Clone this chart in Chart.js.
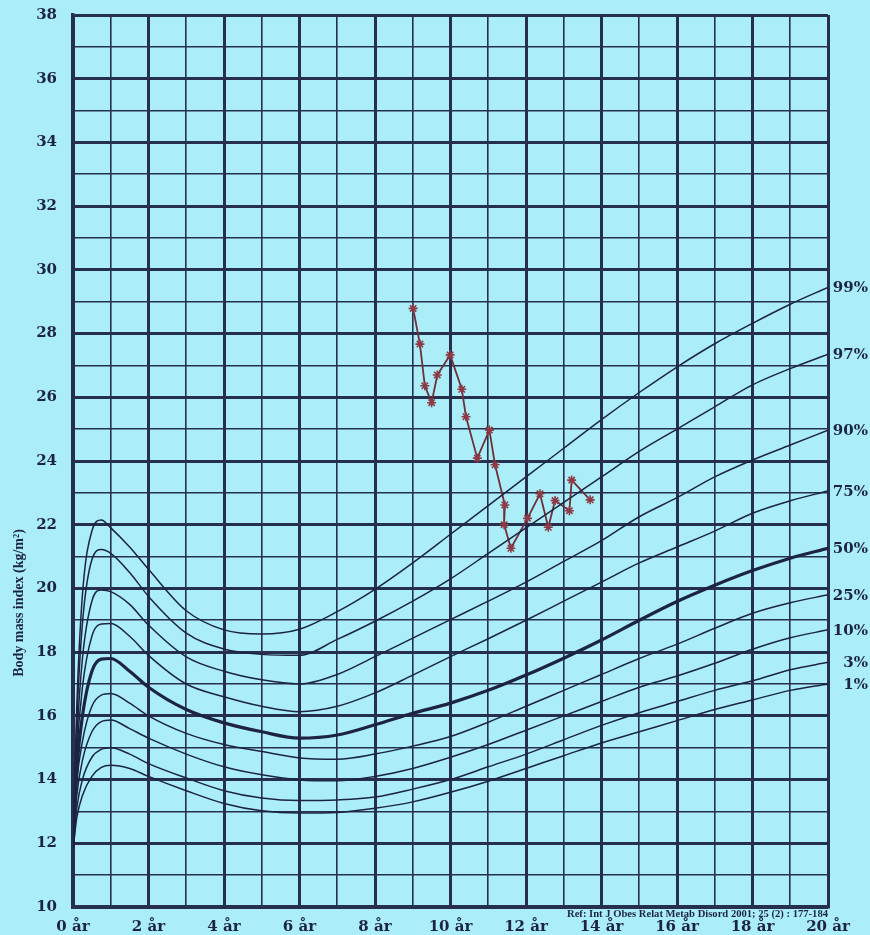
<!DOCTYPE html>
<html>
<head>
<meta charset="utf-8">
<script src="https://cdn.jsdelivr.net/npm/chart.js@4.4.1/dist/chart.umd.min.js"></script>
<style>
  body { margin: 0; background: #abeef8; }
  canvas { display: block; }
</style>
</head>
<body>
<canvas id="bmi" width="870" height="935"></canvas>
<script>
// ages in years, curves
const ages = [0, 0.1, 0.25, 0.5, 0.75, 1, 1.5, 2, 3, 4, 5, 6, 7, 8, 9, 10, 11, 12, 13, 14, 15, 16, 17, 18, 19, 20]
const p99 = [12.0, 16.3, 19.8, 21.8, 22.15, 21.9, 21.3, 20.6, 19.3, 18.7, 18.57, 18.72, 19.27, 19.97, 20.8, 21.7, 22.6, 23.5, 24.4, 25.3, 26.15, 26.95, 27.68, 28.32, 28.92, 29.45]
const p97 = [12.0, 15.8, 18.9, 20.9, 21.22, 21.1, 20.5, 19.75, 18.6, 18.1, 17.93, 17.9, 18.4, 18.97, 19.6, 20.3, 21.1, 21.9, 22.7, 23.5, 24.3, 25.0, 25.7, 26.39, 26.9, 27.35]
const p90 = [12.0, 15.2, 17.8, 19.6, 19.95, 19.9, 19.5, 18.85, 17.85, 17.4, 17.13, 17.0, 17.3, 17.86, 18.44, 19.02, 19.6, 20.2, 20.85, 21.5, 22.25, 22.85, 23.5, 24.03, 24.5, 24.97]
const p75 = [11.9, 14.8, 16.9, 18.5, 18.88, 18.9, 18.5, 17.9, 17.0, 16.6, 16.3, 16.13, 16.3, 16.72, 17.28, 17.86, 18.42, 19.0, 19.6, 20.2, 20.8, 21.3, 21.8, 22.36, 22.75, 23.06]
const p50 = [11.9, 14.3, 16.0, 17.4, 17.78, 17.8, 17.4, 16.9, 16.2, 15.78, 15.5, 15.3, 15.4, 15.72, 16.08, 16.4, 16.8, 17.28, 17.81, 18.38, 19.0, 19.59, 20.1, 20.56, 20.95, 21.26]
const p25 = [11.9, 13.9, 15.2, 16.3, 16.65, 16.7, 16.4, 16.0, 15.45, 15.1, 14.88, 14.68, 14.64, 14.8, 15.05, 15.35, 15.8, 16.3, 16.8, 17.3, 17.8, 18.25, 18.75, 19.22, 19.55, 19.8]
const p10 = [11.9, 13.5, 14.6, 15.5, 15.82, 15.87, 15.6, 15.3, 14.8, 14.4, 14.15, 13.99, 13.96, 14.1, 14.35, 14.7, 15.1, 15.55, 16.0, 16.45, 16.9, 17.25, 17.65, 18.09, 18.45, 18.7]
const p3 = [11.8, 13.1, 14.0, 14.7, 14.95, 15.0, 14.8, 14.5, 14.05, 13.65, 13.42, 13.34, 13.36, 13.45, 13.7, 14.0, 14.4, 14.8, 15.25, 15.7, 16.1, 16.45, 16.8, 17.1, 17.45, 17.68]
const p1 = [11.8, 12.8, 13.5, 14.1, 14.38, 14.45, 14.35, 14.1, 13.65, 13.25, 13.02, 12.95, 12.97, 13.1, 13.3, 13.6, 13.95, 14.35, 14.75, 15.15, 15.5, 15.85, 16.2, 16.5, 16.8, 17.0]

const percentiles = ['99%', '97%', '90%', '75%', '50%', '25%', '10%', '3%', '1%']
const curves = [p99, p97, p90, p75, p50, p25, p10, p3, p1]

// the child's measurements
const childAge = [9.01, 9.19, 9.32, 9.5, 9.65, 9.99, 10.3, 10.41, 10.71, 11.03, 11.18, 11.44, 11.42, 11.6, 12.04, 12.37, 12.59, 12.77, 13.15, 13.21, 13.7]
const childBmi = [28.79, 27.67, 26.36, 25.83, 26.7, 27.33, 26.25, 25.39, 24.09, 24.97, 23.88, 22.62, 22.0, 21.26, 22.2, 22.97, 21.92, 22.76, 22.44, 23.4, 22.78]

const xTickLabels = ['0 år', '2 år', '4 år', '6 år', '8 år', '10 år', '12 år', '14 år', '16 år', '18 år', '20 år']
const yTickLabels = ['10', '12', '14', '16', '18', '20', '22', '24', '26', '28', '30', '32', '34', '36', '38']

const ink = '#1c2442'
const gridInk = '#26304e'

const datasets = curves.map((vals, i) => ({
  label: percentiles[i],
  data: ages.map((a, j) => ({ x: a, y: vals[j] })),
  borderColor: ink,
  borderWidth: percentiles[i] === '50%' ? 3.2 : 1.5,
  pointRadius: 0,
  cubicInterpolationMode: 'monotone',
  fill: false
}))

datasets.push({
  label: 'child',
  data: childAge.map((a, j) => ({ x: a, y: childBmi[j] })),
  borderColor: '#6e2f3a',
  borderWidth: 1.8,
  pointStyle: 'star',
  pointRadius: 4.5,
  pointBorderWidth: 1.6,
  pointBorderColor: '#8c3a46',
  pointBackgroundColor: '#8c3a46',
  tension: 0
})

const paperPlugin = {
  id: 'paper',
  beforeDraw(chart) {
    const c = chart.ctx
    c.save()
    c.fillStyle = '#abeef8'
    c.fillRect(0, 0, chart.width, chart.height)
    c.restore()
  },
  afterDraw(chart) {
    const c = chart.ctx
    const yScale = chart.scales.y
    c.save()
    c.fillStyle = ink
    // percentile names at the end of each curve
    c.font = 'bold 15px "DejaVu Serif"'
    c.textAlign = 'right'
    c.textBaseline = 'middle'
    curves.forEach((vals, i) => {
      c.fillText(percentiles[i], 868, yScale.getPixelForValue(vals[vals.length - 1]) + 1)
    })
    // reference line under the grid
    c.font = 'bold 10.6px "Liberation Serif"'
    c.textAlign = 'right'
    c.fillText('Ref: Int J Obes Relat Metab Disord 2001; 25 (2) : 177-184', chart.chartArea.right, 914)
    // y axis title, sits low on the page
    c.translate(19, 603)
    c.rotate(-Math.PI / 2)
    c.textAlign = 'center'
    c.font = 'bold 14px "Liberation Serif"'
    c.fillText('Body mass index (kg/m²)', 0, 0)
    c.restore()
  }
}

new Chart(document.getElementById('bmi'), {
  type: 'line',
  data: { datasets },
  plugins: [paperPlugin],
  options: {
    responsive: false,
    animation: false,
    layout: { padding: { left: 0, right: 42, top: 15, bottom: 0 } },
    plugins: {
      legend: { display: false },
      tooltip: { enabled: false }
    },
    scales: {
      x: {
        type: 'linear',
        min: 0,
        max: 20,
        afterFit: (scale) => { scale.height = 28 },
        border: { color: gridInk, width: 3.5 },
        grid: {
          color: gridInk,
          drawTicks: false,
          lineWidth: (ctx) => (ctx.tick && ctx.tick.value % 2 === 0 ? 3 : 1.6)
        },
        ticks: {
          stepSize: 1,
          autoSkip: false,
          maxRotation: 0,
          padding: 11,
          color: ink,
          font: { family: 'DejaVu Serif', size: 15, weight: 'bold' },
          callback: (v) => (v % 2 === 0 ? xTickLabels[v / 2] : '')
        }
      },
      y: {
        min: 10,
        max: 38,
        afterFit: (scale) => {
          scale.width = 73
          // labels may hang over the ends, the page margin already covers them
          scale.paddingTop = 0
          scale.paddingBottom = 0
        },
        border: { color: gridInk, width: 3.5 },
        grid: {
          color: gridInk,
          drawTicks: false,
          lineWidth: (ctx) => (ctx.tick && ctx.tick.value % 2 === 0 ? 3 : 1.6)
        },
        ticks: {
          stepSize: 1,
          autoSkip: false,
          padding: 16,
          color: ink,
          font: { family: 'DejaVu Serif', size: 15, weight: 'bold' },
          callback: (v) => (v % 2 === 0 ? yTickLabels[(v - 10) / 2] : '')
        }
      }
    }
  }
})
</script>
</body>
</html>
